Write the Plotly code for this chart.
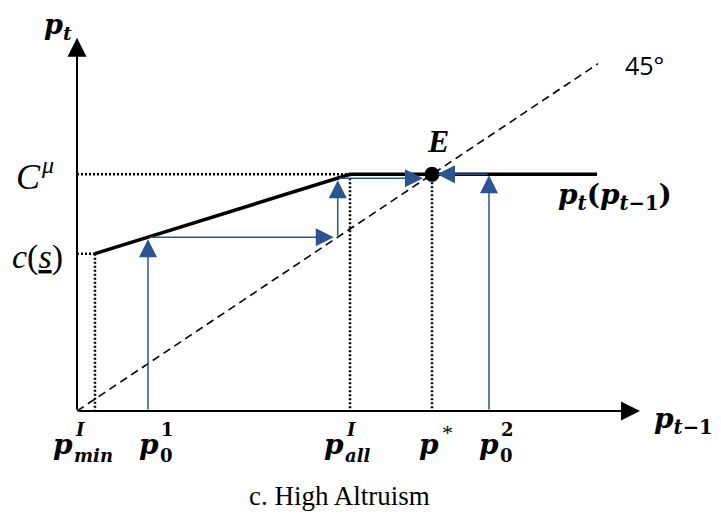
import plotly.graph_objects as go

# ---------------- data (abstract units; diagonal is p_t = p_{t-1}) ----------------
p_min = 18          # p^I_min
c_s = 236           # c(s)
p_all = 273         # p^I_all (kink)
c_mu = 355          # C^mu (flat level)
p_star = 355        # p* (equilibrium E)
p_end = 520         # end of the p_t(p_{t-1}) line
diag_end = 521      # end of the 45 degree line
p0_values = [71, 412]   # p0^1, p0^2
x_axis_end = 563
y_axis_end = 560

curve_x = [p_min, p_all, p_end]
curve_y = [c_s, c_mu, c_mu]

bottom_labels = ["p^I_min", "p^1_0", "p^I_all", "p*", "p^2_0"]


def f(p):
    if p >= p_all:
        return c_mu
    return c_s + (p - p_min) * (c_mu - c_s) / (p_all - p_min)


# ---------------- pixel helper for text placement (screen pixels) ----------------
OX, OY, KY = 77, 411, 1.5
BODY = 8  # default page margin of the html body
W, H = 713, 506


def P(px, py):
    return px - OX, (OY - py) * KY


BLUE = "#2B5592"
SERIF = "DejaVu Serif"
TIMES = "'Liberation Serif', 'Times New Roman', Times, serif"

fig = go.Figure()

# 45 degree dashed line
fig.add_trace(go.Scatter(x=[0, diag_end], y=[0, diag_end], mode="lines",
                         line=dict(color="black", width=1.6, dash="8px,5px"),
                         hoverinfo="skip", showlegend=False))

# dotted guide lines
dot = dict(color="black", width=2.5, dash="2px,2px")
for xs, ys in [([0, p_all], [c_mu, c_mu]), ([0, p_min], [c_s, c_s]),
               ([p_min, p_min], [c_s, 0]), ([p_all, p_all], [c_mu, 0]),
               ([p_star, p_star], [c_mu - 12, 0])]:
    fig.add_trace(go.Scatter(x=xs, y=ys, mode="lines", line=dot,
                             hoverinfo="skip", showlegend=False))

# p_t(p_{t-1}) curve
fig.add_trace(go.Scatter(x=curve_x, y=curve_y, mode="lines",
                         line=dict(color="black", width=3.5),
                         hoverinfo="skip", showlegend=False))

annotations = []


def arrow(x0, y0, x1, y1, color, width, size, standoff=0):
    annotations.append(dict(x=x1, y=y1, ax=x0, ay=y0, xref="x", yref="y",
                            axref="x", ayref="y", text="", showarrow=True,
                            arrowhead=2, arrowsize=size, arrowwidth=width,
                            arrowcolor=color, standoff=standoff))


# axes
arrow(0, 0, 0, y_axis_end, "black", 2, 1.9)
arrow(0, 0, x_axis_end, 0, "black", 2, 1.9)

# cobweb from p0^1
a = p0_values[0]
fa = f(a)
ffa = f(fa)
arrow(a, 0, a, fa, BLUE, 1.5, 2.4, standoff=2)
arrow(a, fa, fa, fa, BLUE, 1.5, 2.4, standoff=4)
arrow(fa, fa, fa, ffa, BLUE, 1.5, 2.4, standoff=2)
arrow(fa, ffa, p_star, ffa, BLUE, 1.5, 2.4, standoff=9)
# cobweb from p0^2
b = p0_values[1]
fb = f(b)
arrow(b, 0, b, fb, BLUE, 1.5, 2.4, standoff=1)
arrow(b, fb, p_star, fb, BLUE, 1.5, 2.4, standoff=5)

# equilibrium dot
fig.add_trace(go.Scatter(x=[p_star], y=[c_mu], mode="markers",
                         marker=dict(color="black", size=15),
                         hoverinfo="skip", showlegend=False))


def text(px, py, s, size, family=SERIF, xanchor="left", yanchor="middle"):
    x, y = P(px, py)
    annotations.append(dict(x=x, y=y, xref="x", yref="y", text=s,
                            showarrow=False, xanchor=xanchor, yanchor=yanchor,
                            font=dict(family=family, size=size, color="black")))


BP = "<b><i>p</i></b>"
# top y label
text(42, 26, "<b><i>p</i><sub><i>t</i></sub></b>", 27)
# right x label
text(652, 420, "<b><i>p</i><sub><i>t</i>−1</sub></b>", 28)
# curve label
text(556, 196, "<b><i>p</i><sub><i>t</i></sub>(<i>p</i><sub><i>t</i>−1</sub>)</b>", 28)
# left labels
text(14, 177, "<i>C</i>", 36, TIMES)
text(39, 165, "<i>μ</i>", 24, TIMES)
text(10, 257, "<i>c</i>(<u><i>s</i></u>)", 34, TIMES)
# E and 45
text(438, 141, "<b><i>E</i></b>", 32, TIMES, xanchor="center")
text(623, 65, "45°", 25, "Open Sans")

# bottom labels (p with stacked super/subscripts)
left_px = {"p^I_min": 51, "p^1_0": 137, "p^I_all": 322, "p*": 417, "p^2_0": 477}
for lab in bottom_labels:
    lx = left_px[lab]
    text(lx, 444, BP, 28)
    if lab == "p*":
        text(lx + 23, 432, "*", 22, TIMES)
        continue
    sup, sub = lab[1:].split("_")
    sup = sup[1:]
    if sup.isdigit():
        sup_t, sub_t = "<b>%s</b>" % sup, "<b>%s</b>" % sub
    else:
        sup_t, sub_t = "<b><i>%s</i></b>" % sup, "<b><i>%s</i></b>" % sub
    text(lx + 22, 429, sup_t, 18)
    text(lx + 21, 455, sub_t, 18)

# caption
text(339, 496, "c. High Altruism", 27, TIMES, xanchor="center")

fig.update_layout(
    width=W, height=H,
    margin=dict(l=0, r=0, t=0, b=0),
    paper_bgcolor="white", plot_bgcolor="white",
    xaxis=dict(range=[-(OX - BODY), W - (OX - BODY)], visible=False, fixedrange=True),
    yaxis=dict(range=[(OY - BODY - H) * KY, (OY - BODY) * KY], visible=False,
               fixedrange=True),
    annotations=annotations,
    showlegend=False,
)

fig.write_html("out.html")
